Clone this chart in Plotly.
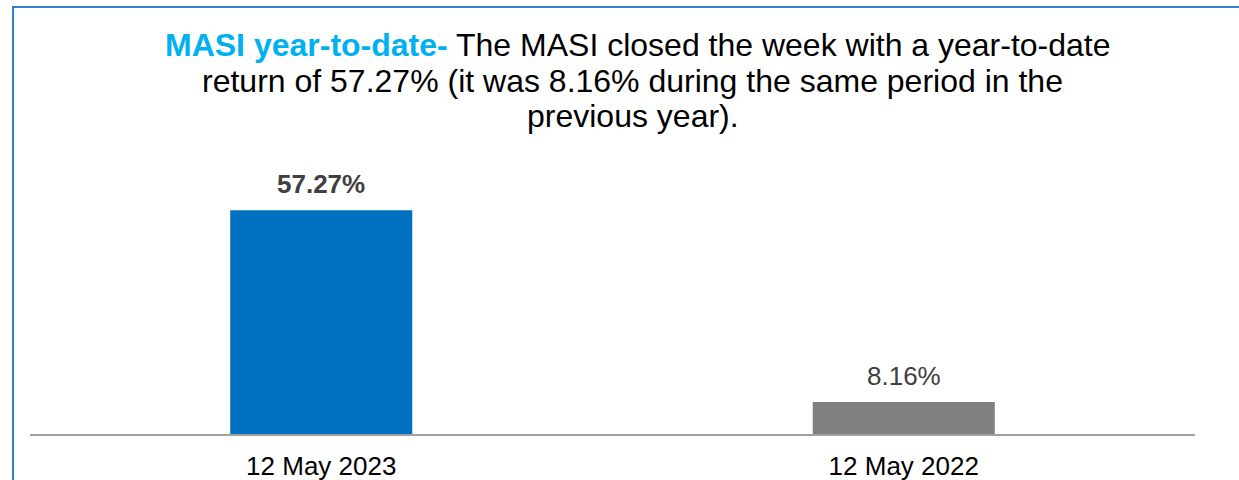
import plotly.graph_objects as go

categories = ["12 May 2023", "12 May 2022"]
values = [57.27, 8.16]
value_labels = ["<b>57.27%</b>", "8.16%"]
bar_colors = ["#0070C0", "#808080"]

title_lines = [
    "<span style='color:#00B0F0'><b>MASI year-to-date-</b></span> The MASI closed the week with a year-to-date",
    "return of 57.27% (it was 8.16% during the same period in the",
    "previous year).",
]

FONT = "Liberation Sans, Arial, sans-serif"

fig = go.Figure()
fig.add_trace(go.Bar(
    x=categories, y=values,
    marker=dict(color=bar_colors, line=dict(width=0)),
    width=0.3125,
    hoverinfo="skip",
))

# data labels
for c, v, t in zip(categories, values, value_labels):
    fig.add_annotation(x=c, y=v, xref="x", yref="y", text=t, showarrow=False,
                       yanchor="middle", yshift=26,
                       font=dict(family=FONT, size=26, color="#404040"))

# title lines
H_TOP, H_BOT = 150, 46
plot_h = 480 - H_TOP - H_BOT
def py(p):
    return (480 - H_BOT - p) / plot_h
def px(p):
    return (p - 30) / (1239 - 30 - 44)

title_centers = [(637.5, 45), (632.5, 81), (633, 116)]
for line, (cx, cy) in zip(title_lines, title_centers):
    fig.add_annotation(x=px(cx), y=py(cy), xref="paper", yref="paper", text=line,
                       showarrow=False, xanchor="center", yanchor="middle",
                       font=dict(family=FONT, size=32, color="#000000"))

# outer border
fig.add_shape(type="rect", xref="paper", yref="paper",
              x0=px(13), x1=px(1260), y0=py(500), y1=py(7),
              line=dict(color="#2E83D4", width=2), fillcolor="rgba(0,0,0,0)")

fig.update_layout(
    width=1239, height=480,
    margin=dict(l=30, r=44, t=H_TOP, b=H_BOT, autoexpand=False),
    paper_bgcolor="white", plot_bgcolor="white",
    showlegend=False,
    bargap=0.6875,
    font=dict(family=FONT, size=26, color="#000000"),
    xaxis=dict(showline=True, linecolor="#A0A0A0", linewidth=2, ticks="",
               showgrid=False, zeroline=False, automargin=False,
               ticklabelstandoff=8,
               tickfont=dict(family=FONT, size=26, color="#000000")),
    yaxis=dict(visible=False, range=[0, 72.7], showgrid=False, zeroline=False,
               automargin=False),
)

fig.write_html("out.html")
